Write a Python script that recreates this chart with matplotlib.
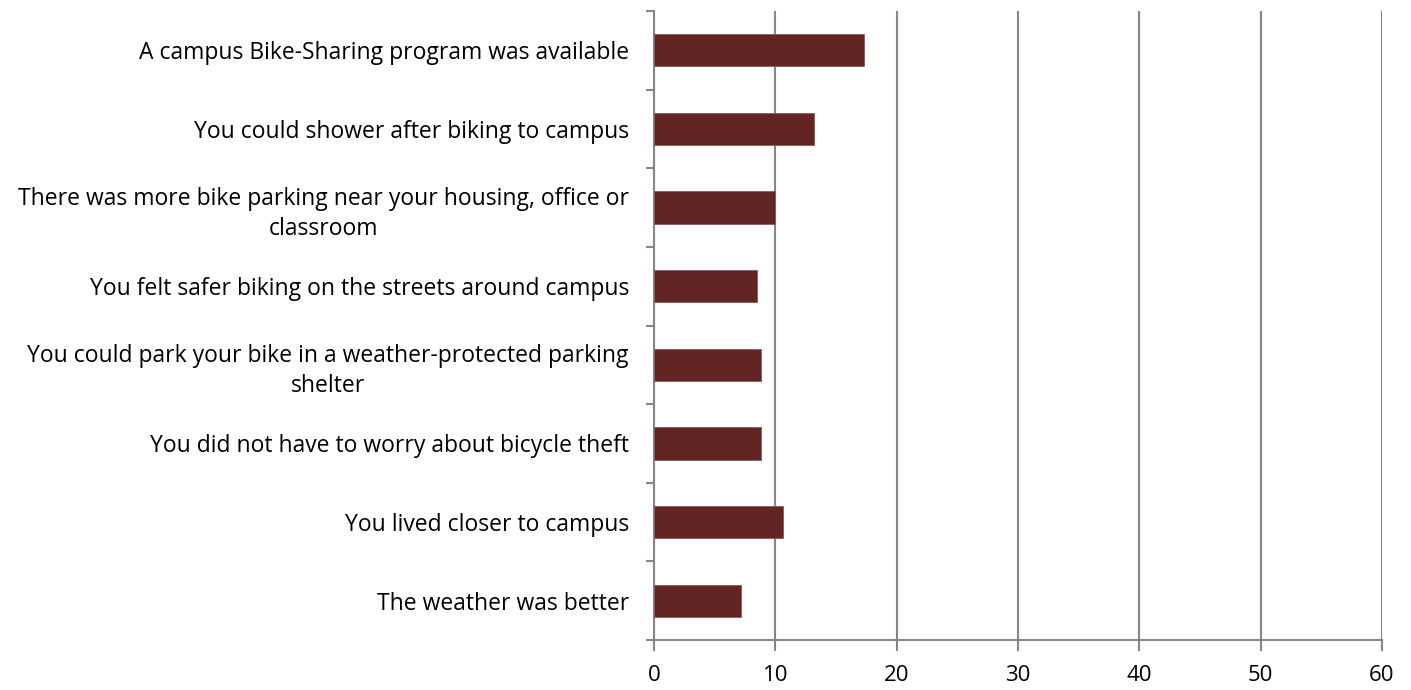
import matplotlib
matplotlib.use('Agg')
import matplotlib.pyplot as plt
import numpy as np

labels = [
    "A campus Bike-Sharing program was available",
    "You could shower after biking to campus",
    "There was more bike parking near your housing, office or\nclassroom",
    "You felt safer biking on the streets around campus",
    "You could park your bike in a weather-protected parking\nshelter",
    "You did not have to worry about bicycle theft",
    "You lived closer to campus",
    "The weather was better",
]
values = [17.3, 13.2, 10.0, 8.5, 8.8, 8.8, 10.6, 7.2]
xticks = [0, 10, 20, 30, 40, 50, 60]

plt.rcParams['font.family'] = ['Open Sans', 'DejaVu Sans']
grey = '#868686'

fig = plt.figure(figsize=(14.11, 6.90), dpi=100)
ax = fig.add_axes([0.4635, 0.0725, 0.5159, 0.9115])

y = np.arange(len(labels))[::-1]
ax.barh(y, values, height=0.41, color='#632523', edgecolor='#8c5a58', linewidth=0.6, zorder=3)

ax.set_xlim(0, 60)
ax.set_ylim(-0.5, len(labels) - 0.5)
ax.set_xticks(xticks)
ax.set_xticklabels([str(t) for t in xticks], fontsize=16)
ax.set_yticks(y)
ax.set_yticklabels(labels, fontsize=16.5, ha='right', multialignment='center', linespacing=1.35)
ax.set_yticks(np.arange(-0.5, len(labels), 1), minor=True)
ax.tick_params(axis='y', which='major', length=0, pad=18)
ax.tick_params(axis='y', which='minor', length=6, width=1.5, color=grey)
ax.tick_params(axis='x', length=8, width=1.5, color=grey, pad=10)

ax.grid(axis='x', color=grey, linewidth=1.5, zorder=0)
for s in ['top', 'right']:
    ax.spines[s].set_visible(False)
for s in ['left', 'bottom']:
    ax.spines[s].set_color(grey)
    ax.spines[s].set_linewidth(1.5)

fig.savefig('out.png', dpi=100)
